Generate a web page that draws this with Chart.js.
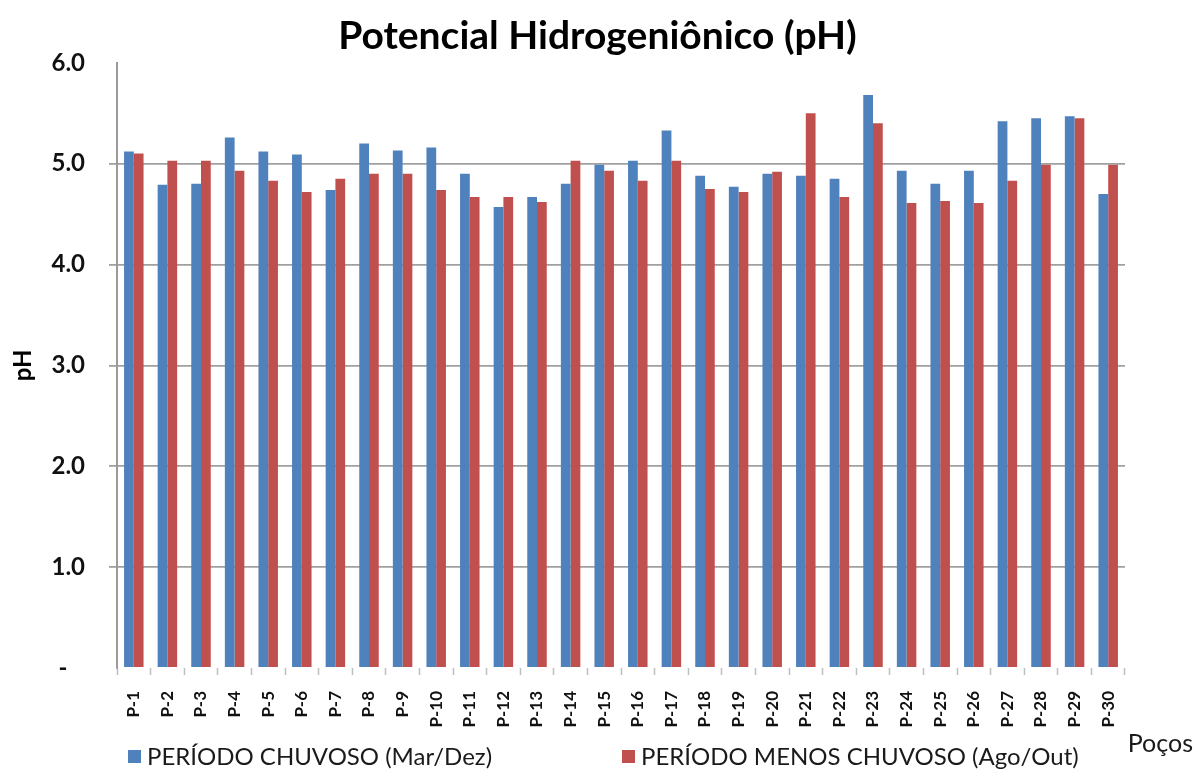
<!DOCTYPE html>
<html>
<head>
<meta charset="utf-8">
<script src="https://cdn.jsdelivr.net/npm/chart.js@4"></script>
<style>
  html, body { margin: 0; padding: 0; background: #ffffff; }
  #wrap { width: 1195px; height: 772px; }
</style>
</head>
<body>
<div id="wrap"><canvas id="c" width="1195" height="772"></canvas></div>
<script>
const chartTitle = 'Potencial Hidrogeniônico (pH)';
const yTitle = 'pH';
const xTitle = 'Poços';
const categories = ['P-1','P-2','P-3','P-4','P-5','P-6','P-7','P-8','P-9','P-10',
  'P-11','P-12','P-13','P-14','P-15','P-16','P-17','P-18','P-19','P-20',
  'P-21','P-22','P-23','P-24','P-25','P-26','P-27','P-28','P-29','P-30'];
const seriesNames = ['PERÍODO CHUVOSO (Mar/Dez)', 'PERÍODO MENOS CHUVOSO (Ago/Out)'];
const chuvoso = [5.12, 4.79, 4.80, 5.26, 5.12, 5.09, 4.74, 5.20, 5.13, 5.16,
  4.90, 4.57, 4.67, 4.80, 4.99, 5.03, 5.33, 4.88, 4.77, 4.90,
  4.88, 4.85, 5.68, 4.93, 4.80, 4.93, 5.42, 5.45, 5.47, 4.70];
const menosChuvoso = [5.10, 5.03, 5.03, 4.93, 4.83, 4.72, 4.85, 4.90, 4.90, 4.74,
  4.67, 4.67, 4.62, 5.03, 4.93, 4.83, 5.03, 4.75, 4.72, 4.92,
  5.50, 4.67, 5.40, 4.61, 4.63, 4.61, 4.83, 4.99, 5.45, 4.99];
const yTicks = [0, 1, 2, 3, 4, 5, 6];
const yTickLabels = ['-', '1.0', '2.0', '3.0', '4.0', '5.0', '6.0'];

const BLUE = '#4F81BD';
const RED = '#C0504D';
const FONT = 'Lato, "Open Sans", sans-serif';

const centerTitlePlugin = {
  id: 'centerTitle',
  afterLayout(chart) {
    if (chart.titleBlock) {
      chart.titleBlock.left = 0;
      chart.titleBlock.right = chart.width;
      chart.titleBlock.width = chart.width;
    }
  }
};

const bottomLegendPlugin = {
  id: 'bottomLegend',
  afterDraw(chart) {
    const ctx = chart.ctx;
    const area = chart.chartArea;
    ctx.save();
    ctx.font = '24px ' + FONT;
    ctx.textBaseline = 'middle';
    ctx.textAlign = 'left';
    const y = 757;
    const starts = [area.left + 11, area.left + 505];
    chart.data.datasets.forEach((ds, i) => {
      ctx.fillStyle = ds.backgroundColor;
      ctx.fillRect(starts[i], y - 7, 13, 13);
      ctx.fillStyle = '#1a1a1a';
      ctx.fillText(ds.label, starts[i] + 19, y);
    });
    ctx.textAlign = 'right';
    ctx.font = '25px ' + FONT;
    ctx.fillText(xTitle, chart.width - 2, 744);
    ctx.restore();
  }
};

function build() {
  new Chart(document.getElementById('c'), {
    type: 'bar',
    data: {
      labels: categories,
      datasets: [
        { label: seriesNames[0], data: chuvoso, backgroundColor: BLUE, borderWidth: 0 },
        { label: seriesNames[1], data: menosChuvoso, backgroundColor: RED, borderWidth: 0 }
      ]
    },
    options: {
      responsive: false,
      animation: false,
      devicePixelRatio: 1,
      datasets: { bar: { categoryPercentage: 0.58, barPercentage: 1.0 } },
      layout: { padding: { left: 0, right: 70, top: 0, bottom: 0 } },
      plugins: {
        legend: { display: false },
        tooltip: { enabled: false },
        title: {
          display: true,
          text: chartTitle,
          color: '#000000',
          font: { family: FONT, size: 39, weight: 'bold' },
          padding: { top: 13, bottom: 3 }
        }
      },
      scales: {
        x: {
          offset: true,
          border: { display: false },
          grid: {
            display: true,
            offset: true,
            drawOnChartArea: false,
            drawTicks: true,
            tickLength: 7,
            tickColor: '#BFBFBF',
            tickWidth: 1.5
          },
          ticks: {
            autoSkip: false,
            minRotation: 90,
            maxRotation: 90,
            padding: 16,
            color: '#111111',
            font: { family: FONT, size: 17, weight: 'bold' }
          },
          afterFit(scale) { scale.height = 104; }
        },
        y: {
          min: 0,
          max: 6,
          border: { display: true, color: '#9A9A9A', width: 2 },
          grid: {
            drawTicks: true,
            tickLength: 8,
            color: (c) => (c.tick && (c.tick.value === 0 || c.tick.value === 6)) ? 'rgba(0,0,0,0)' : '#A0A0A0',
            tickColor: (c) => (c.tick && (c.tick.value === 0 || c.tick.value === 6)) ? 'rgba(0,0,0,0)' : '#A0A0A0',
            lineWidth: 1.8
          },
          afterBuildTicks(scale) { scale.ticks = yTicks.map(v => ({ value: v })); },
          ticks: {
            padding: 24,
            color: '#111111',
            font: { family: FONT, size: 24, weight: 'bold' },
            callback: (value) => {
              const i = yTicks.indexOf(value);
              return i === 0 ? '-   ' : yTickLabels[i];
            }
          },
          title: {
            display: true,
            text: yTitle,
            color: '#000000',
            font: { family: FONT, size: 24, weight: 'bold' },
            padding: { top: 9, bottom: 0 }
          },
          afterFit(scale) { scale.width = 117; }
        }
      }
    },
    plugins: [centerTitlePlugin, bottomLegendPlugin]
  });
}

Promise.all([
  document.fonts.load('bold 39px Lato'),
  document.fonts.load('24px Lato'),
  document.fonts.load('bold 17px Lato')
]).then(build, build);
</script>
</body>
</html>
